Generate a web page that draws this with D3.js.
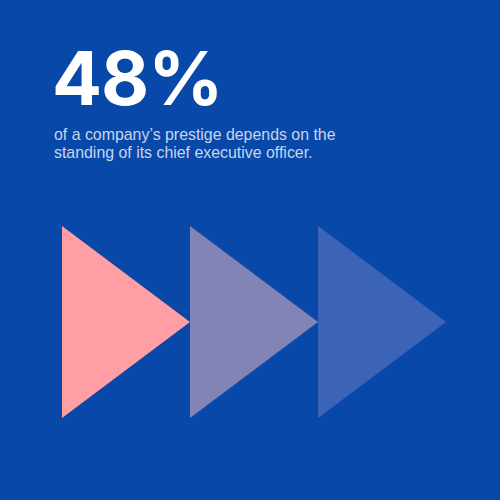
<!DOCTYPE html>
<html>
<head>
<meta charset="utf-8">
<script src="https://cdn.jsdelivr.net/npm/d3@7"></script>
<style>
  html, body { margin: 0; padding: 0; background: #0848a8; }
  svg { display: block; }
</style>
</head>
<body>
<div id="chart"></div>
<script>
// data
var headline = "48%";
var captionLines = [
    "of a company\u2019s prestige depends on the",
    "standing of its chief executive officer."
];
var arrows = ["first", "second", "third"];
var arrowColors = ["#ff9ea3", "#8284b5", "#3c64b6"];

var width = 500,
    height = 500;

var svg = d3.select("#chart")
            .append("svg")
            .attr("width", width)
            .attr("height", height)
            .attr("viewBox", [0, 0, width, height]);

svg.append("rect")
    .attr("width", width)
    .attr("height", height)
    .attr("fill", "#0848a8");

// big number
svg.append("text")
    .attr("x", 52)
    .attr("y", 105)
    .attr("fill", "#ffffff")
    .attr("font-family", "Inter, 'Noto Sans', sans-serif")
    .attr("font-weight", 700)
    .attr("font-size", "74px")
    .attr("letter-spacing", "-1px")
    .text(headline);

svg.append("g")
    .selectAll("text")
    .data(captionLines)
    .join("text")
    .attr("x", 54)
    .attr("y", (d, i) => 140 + i * 18)
    .attr("fill", "#c9d5ee")
    .attr("font-family", "'Liberation Sans', Arial, sans-serif")
    .attr("font-size", "15.9px")
    .text(d => d);

// triangles
var x = d3.scaleBand()
    .domain(arrows)
    .range([62, 446])
    .padding(0);

var y = d3.scaleLinear()
    .domain([0, 1])
    .range([418, 226]);

svg.append("g")
    .selectAll("path")
    .data(arrows)
    .join("path")
    .attr("d", d => {
        var x0 = x(d), x1 = x(d) + x.bandwidth();
        return "M" + x0 + "," + y(1) + "L" + x1 + "," + y(0.5) + "L" + x0 + "," + y(0) + "Z";
    })
    .attr("fill", (d, i) => arrowColors[i]);
</script>
</body>
</html>
